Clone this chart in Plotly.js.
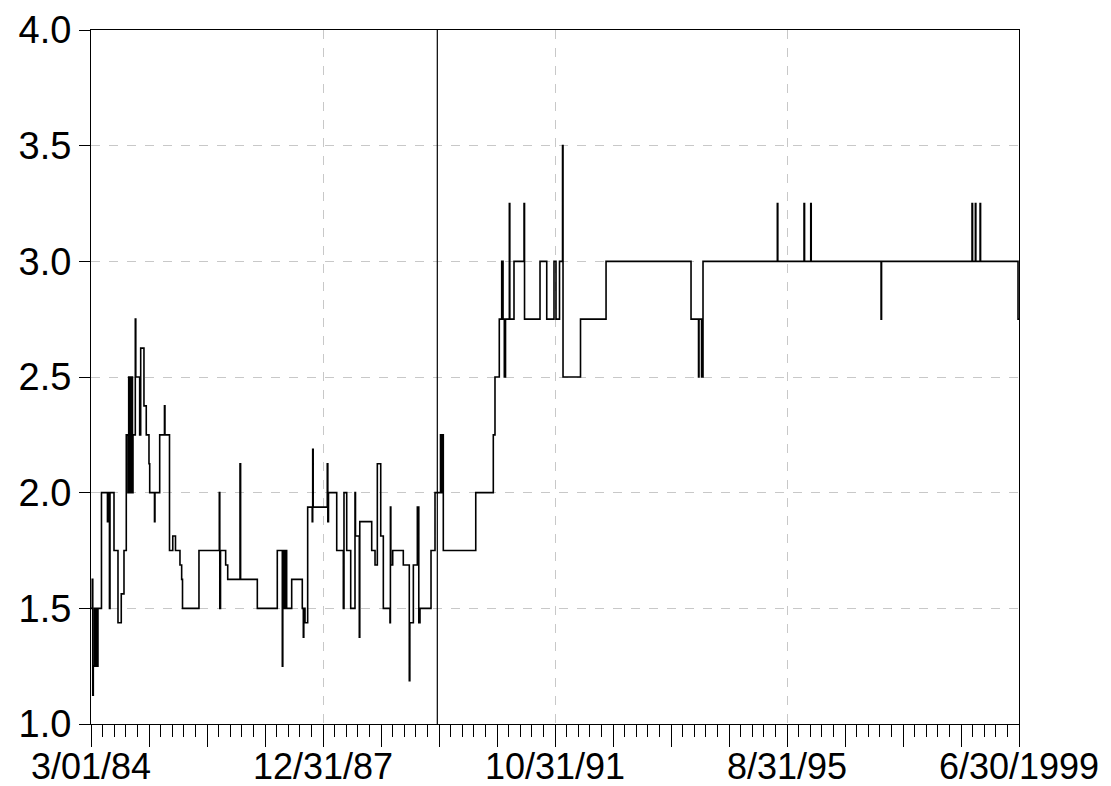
<!DOCTYPE html>
<html>
<head>
<meta charset="utf-8">
<script src="https://cdn.plot.ly/plotly-3.0.1.min.js"></script>
<style>html,body{margin:0;padding:0;background:#fff;}#chart{width:1111px;height:786px;}</style>
</head>
<body>
<div id="chart"></div>
<script>
// time in decimal years (observation change points), value holds until next point
const t = [
1984.167,1984.188,1984.196,1984.205,1984.224,1984.233,1984.249,1984.258,1984.282,1984.340,
1984.439,1984.459,1984.472,1984.481,1984.547,1984.613,1984.667,1984.712,1984.750,1984.778,
1984.790,1984.803,1984.816,1984.828,1984.839,1984.852,1984.861,1984.899,1984.907,1984.971,
1984.988,1985.042,1985.080,1985.125,1985.137,1985.216,1985.224,1985.302,1985.381,1985.389,
1985.464,1985.518,1985.563,1985.637,1985.665,1985.679,1985.951,1986.287,1986.295,1986.307,
1986.392,1986.426,1986.629,1986.639,1986.915,1987.245,1987.328,1987.336,1987.356,1987.367,
1987.381,1987.389,1987.400,1987.483,1987.658,1987.675,1987.683,1987.703,1987.747,1987.822,
1987.830,1987.838,1988.071,1988.080,1988.091,1988.227,1988.336,1988.347,1988.392,1988.458,
1988.529,1988.537,1988.600,1988.608,1988.805,1988.860,1988.898,1988.954,1988.997,1989.107,
1989.114,1989.121,1989.152,1989.327,1989.426,1989.435,1989.493,1989.559,1989.583,1989.603,
1989.785,1989.851,1989.942,1989.955,1989.967,1989.988,1990.524,1990.814,1990.842,1990.913,
1990.953,1990.975,1990.996,1991.016,1991.079,1991.087,1991.156,1991.322,1991.330,1991.586,
1991.697,1991.817,1991.850,1991.908,1991.958,1991.966,1992.255,1992.677,1994.081,1994.205,
1994.213,1994.255,1994.279,1995.507,1995.515,1995.948,1995.957,1996.059,1996.067,1997.221,
1997.229,1998.724,1998.733,1998.779,1998.787,1998.857,1998.865,1999.484,1999.500
];
const rate = [
1.5,1.625,1.125,1.25,1.5,1.25,1.5,1.25,1.5,2.0,
1.875,2.0,1.5,2.0,1.75,1.4375,1.5625,1.75,2.25,2.0,
2.5,2.0,2.5,2.0,2.5,2.0,2.25,2.75,2.5,2.25,
2.625,2.375,2.25,2.125,2.0,1.875,2.0,2.25,2.375,2.25,
1.75,1.8125,1.75,1.6875,1.625,1.5,1.75,2.0,1.5,1.75,
1.6875,1.625,2.125,1.625,1.5,1.75,1.25,1.75,1.5,1.75,
1.5,1.75,1.5,1.625,1.5,1.375,1.5,1.4375,1.9375,1.875,
2.1875,1.9375,2.125,1.875,2.0,1.75,1.5,2.0,1.75,1.5,
2.0,1.8125,1.375,1.875,1.75,1.6875,2.125,1.8125,1.5,1.4375,
1.9375,1.6875,1.75,1.6875,1.1875,1.4375,1.6875,1.9375,1.4375,1.5,
1.75,2.0,2.25,2.0,2.25,1.75,2.0,2.25,2.5,2.75,
3.0,2.75,2.5,2.75,3.25,2.75,3.0,3.25,2.75,3.0,
2.75,3.0,2.75,3.0,3.5,2.5,2.75,3.0,2.75,2.5,
2.75,2.5,3.0,3.25,3.0,3.25,3.0,3.25,3.0,2.75,
3.0,3.25,3.0,3.25,3.0,3.25,3.0,2.75,2.75
];
const tickLabels = ['3/01/84','12/31/87','10/31/91','8/31/95','6/30/1999'];
const yTicks = [1.0,1.5,2.0,2.5,3.0,3.5,4.0];
const breakTime = [1989.889];

const t0 = t[0], t1 = t[t.length-1], span = t1 - t0;
const labelVals = tickLabels.map((_, i) => t0 + i * span / (tickLabels.length - 1));
const nMajor = (tickLabels.length - 1) * 4;
const majorVals = [];
for (let i = 0; i <= nMajor; i++) majorVals.push(t0 + i * span / nMajor);

const fam = 'Arial, "Liberation Sans", sans-serif';
const xFont = {family: fam, size: 36, color: '#000'};
const yFont = {family: fam, size: 38, color: '#000'};

const traces = [
  {x: t, y: rate, type: 'scatter', mode: 'lines', line: {shape: 'hv', color: '#000', width: 1.6}, hoverinfo: 'skip', showlegend: false},
  {x: [t0], y: [yTicks[0]], xaxis: 'x2', type: 'scatter', mode: 'lines', hoverinfo: 'skip', showlegend: false}
];

const layout = {
  width: 1111, height: 786,
  margin: {l: 91, r: 92, t: 30, b: 62},
  paper_bgcolor: '#fff', plot_bgcolor: '#fff',
  font: xFont,
  showlegend: false,
  xaxis: {
    range: [t0, t1], tickmode: 'array', tickvals: labelVals, ticktext: tickLabels,
    ticks: 'outside', ticklen: 11, tickwidth: 1, tickcolor: '#000',
    showgrid: true, gridcolor: '#c8c8c8', gridwidth: 1, griddash: 'dash',
    showline: true, mirror: true, linecolor: '#000', linewidth: 1,
    zeroline: false, tickfont: xFont,
    minor: {tickmode: 'linear', tick0: t0, dtick: span / (nMajor * 5), ticks: 'outside', ticklen: 12, tickwidth: 1, tickcolor: '#000', showgrid: false}
  },
  xaxis2: {
    overlaying: 'x', anchor: 'y', side: 'bottom', range: [t0, t1],
    tickmode: 'array', tickvals: majorVals, ticks: 'outside', ticklen: 22, tickwidth: 1, tickcolor: '#000',
    showticklabels: false, showgrid: false, showline: false, zeroline: false
  },
  yaxis: {
    range: [yTicks[0], yTicks[yTicks.length-1]], tickmode: 'array', tickvals: yTicks,
    ticktext: yTicks.map(v => v.toFixed(1)),
    ticks: 'outside', ticklen: 11, tickwidth: 1, tickcolor: '#000',
    showgrid: true, gridcolor: '#c8c8c8', gridwidth: 1, griddash: 'dash',
    showline: true, mirror: true, linecolor: '#000', linewidth: 1,
    zeroline: false, tickfont: yFont
  },
  shapes: breakTime.map(b => ({type: 'line', xref: 'x', yref: 'paper', x0: b, x1: b, y0: 0, y1: 1, line: {color: '#000', width: 1.2}}))
};

Plotly.newPlot('chart', traces, layout, {staticPlot: true, displayModeBar: false});
</script>
</body>
</html>
